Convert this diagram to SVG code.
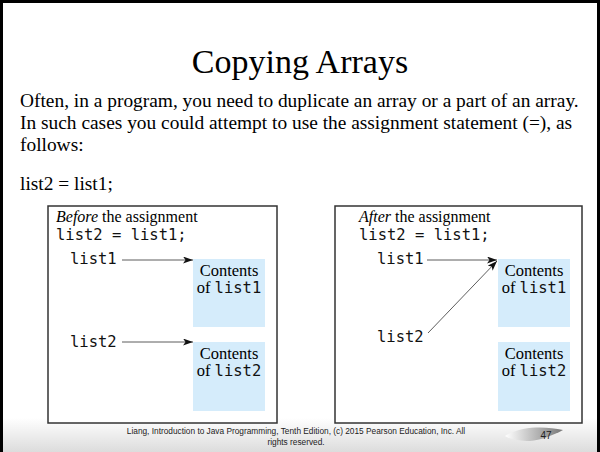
<svg xmlns="http://www.w3.org/2000/svg" width="600" height="452" viewBox="0 0 600 452">
<style>
.t{font-family:"Liberation Serif","Times New Roman",serif;fill:#000}
.m{font-family:"DejaVu Sans Mono","Liberation Mono",monospace;fill:#111}
.frame{fill:#fff;stroke:#333;stroke-width:1.5}
.blue{fill:#d5ecfb}
.conn{stroke:#333;stroke-width:0.8;fill:none}
.foot{font-family:"Liberation Sans",Arial,sans-serif;fill:#222}
</style>
<defs>
<marker id="ah" markerWidth="10" markerHeight="7" refX="10" refY="3.5" orient="auto" markerUnits="userSpaceOnUse">
<path d="M0,0 L10,3.5 L0,7 L2.5,3.5 Z" fill="#111"/>
</marker>
<linearGradient id="bg" x1="0" y1="0" x2="0" y2="1">
<stop offset="0" stop-color="#fff"/>
<stop offset="1" stop-color="#dcdcdc"/>
</linearGradient>
<linearGradient id="sw" x1="0" y1="0" x2="1" y2="0">
<stop offset="0" stop-color="#fff"/>
<stop offset="1" stop-color="#777"/>
</linearGradient>
</defs>
<rect x="0" y="0" width="600" height="452" fill="#fff"/>
<rect x="0" y="418" width="600" height="34" fill="url(#bg)"/>
<path d="M1.5,452 V1.5 H598.5 V452" fill="none" stroke="#000" stroke-width="3"/>

<g id="title"><text class="t" x="300" y="73" font-size="34" text-anchor="middle">Copying Arrays</text></g>
<g id="body" class="t" font-size="19.4">
<text x="20" y="107">Often, in a program, you need to duplicate an array or a part of an array.</text>
<text x="20" y="129">In such cases you could attempt to use the assignment statement (=), as</text>
<text x="20" y="151">follows:</text>
<text x="20" y="190">list2 = list1;</text>
</g>

<g id="before">
<rect class="frame" x="48" y="206" width="229" height="217"/>
<text class="t" x="56" y="222" font-size="16"><tspan font-style="italic">Before</tspan> the assignment</text>
<text class="m" x="56" y="240" font-size="15.5">list2 = list1;</text>
</g>
<g id="before-list1-label"><text class="m" x="70" y="264" font-size="15.5">list1</text></g>
<g id="before-contents1">
<rect class="blue" x="193" y="259" width="72" height="68"/>
<text class="t" x="229" y="276" font-size="16.5" text-anchor="middle">Contents</text>
<text x="229" y="293" text-anchor="middle"><tspan class="t" font-size="16.5">of </tspan><tspan class="m" font-size="15.5">list1</tspan></text>
</g>
<g id="before-list2-label"><text class="m" x="70" y="347" font-size="15.5">list2</text></g>
<g id="before-contents2">
<rect class="blue" x="193" y="342" width="72" height="69"/>
<text class="t" x="229" y="359" font-size="16.5" text-anchor="middle">Contents</text>
<text x="229" y="376" text-anchor="middle"><tspan class="t" font-size="16.5">of </tspan><tspan class="m" font-size="15.5">list2</tspan></text>
</g>

<g id="after">
<rect class="frame" x="335" y="206" width="247" height="217"/>
<text class="t" x="359" y="222" font-size="16"><tspan font-style="italic">After</tspan> the assignment</text>
<text class="m" x="359" y="240" font-size="15.5">list2 = list1;</text>
</g>
<g id="after-list1-label"><text class="m" x="377" y="264" font-size="15.5">list1</text></g>
<g id="after-contents1">
<rect class="blue" x="498" y="259" width="72" height="68"/>
<text class="t" x="534" y="276" font-size="16.5" text-anchor="middle">Contents</text>
<text x="534" y="293" text-anchor="middle"><tspan class="t" font-size="16.5">of </tspan><tspan class="m" font-size="15.5">list1</tspan></text>
</g>
<g id="after-list2-label"><text class="m" x="377" y="342" font-size="15.5">list2</text></g>
<g id="after-contents2">
<rect class="blue" x="498" y="342" width="72" height="69"/>
<text class="t" x="534" y="359" font-size="16.5" text-anchor="middle">Contents</text>
<text x="534" y="376" text-anchor="middle"><tspan class="t" font-size="16.5">of </tspan><tspan class="m" font-size="15.5">list2</tspan></text>
</g>

<g id="connectors">
<line class="conn" x1="122" y1="260" x2="193" y2="260" marker-end="url(#ah)"/>
<line class="conn" x1="122" y1="342" x2="193" y2="342" marker-end="url(#ah)"/>
<line class="conn" x1="427" y1="260" x2="497" y2="260" marker-end="url(#ah)"/>
<line class="conn" x1="428" y1="333" x2="497" y2="261" marker-end="url(#ah)"/>
</g>

<g id="footer">
<text class="foot" x="296" y="434" font-size="8.3" text-anchor="middle">Liang, Introduction to Java Programming, Tenth Edition, (c) 2015 Pearson Education, Inc. All</text>
<text class="foot" x="296" y="445" font-size="8.3" text-anchor="middle">rights reserved.</text>
<path d="M505,436 C520,426 545,426 563,430 C552,436 540,440 530,441 C520,441 510,439 505,436 Z" fill="url(#sw)"/>
<text class="foot" x="546" y="439" font-size="10" text-anchor="middle" fill="#444">47</text>
</g>
</svg>
